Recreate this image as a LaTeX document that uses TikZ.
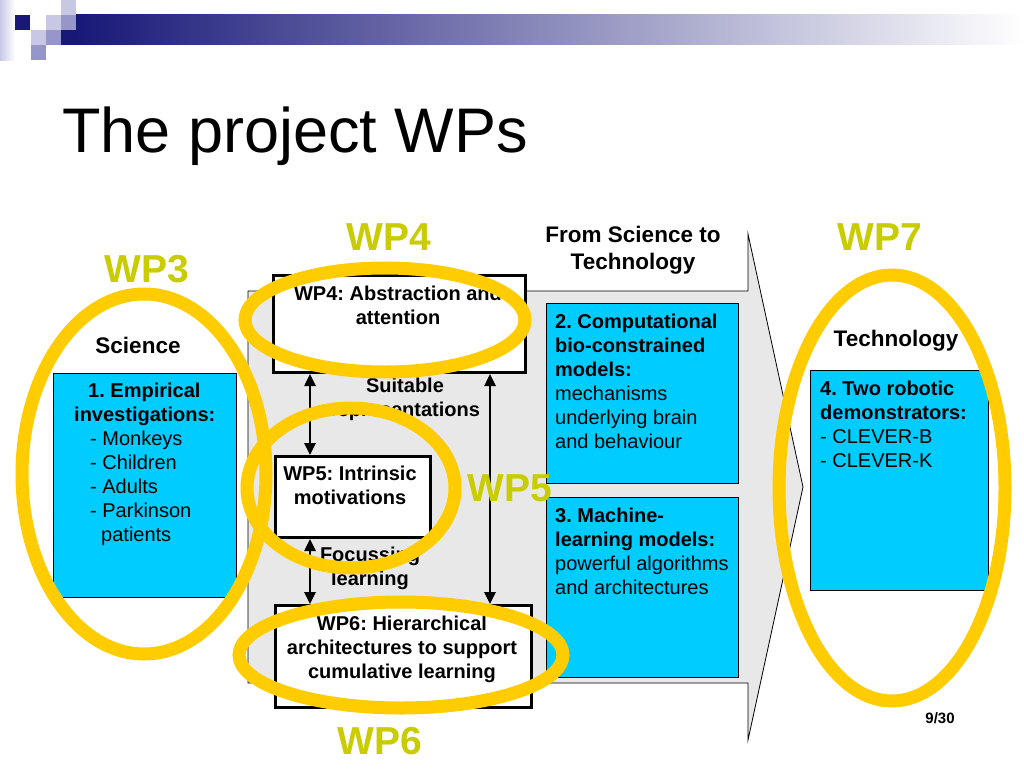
\documentclass[tikz,border=0pt]{standalone}
\usepackage{fontspec}
\setmainfont{Liberation Sans}
\usepackage{tikz}
\usetikzlibrary{arrows.meta}
\frenchspacing
\definecolor{navybar}{RGB}{24,24,120}
\definecolor{lavlight}{RGB}{200,200,228}
\definecolor{lavmid}{RGB}{150,150,200}
\definecolor{boxcyan}{RGB}{0,204,255}
\definecolor{ringgold}{RGB}{255,204,0}
\definecolor{wpolive}{RGB}{200,204,0}
\definecolor{arrowgray}{RGB}{232,232,232}
\tikzset{
	cyanbox/.style={draw=black, line width=0.8pt, fill=boxcyan, anchor=north west, inner sep=0pt},
	wpbox/.style={draw=black, line width=3pt, fill=white, anchor=north west, inner sep=0pt},
	ring/.style={draw=ringgold, line width=13pt},
	wplabel/.style={text=wpolive, anchor=base, inner sep=0pt, font=\fontsize{39}{39}\selectfont\bfseries},
	txt/.style={inner sep=0pt, font=\fontsize{20}{24}\selectfont},
	headtxt/.style={inner sep=0pt, font=\fontsize{22.5}{27}\selectfont\bfseries},
	dbl/.style={line width=2.5pt, {Triangle[length=12pt,width=11pt]}-{Triangle[length=12pt,width=11pt]}}
}
\begin{document}
\begin{tikzpicture}[x=1pt,y=-1pt]
				\useasboundingbox (0,0) rectangle (1024,768);
				\fill[white] (0,0) rectangle (1024,768);
				\shade[left color=lavlight, right color=white] (0,0) rectangle (15,60);
				\shade[left color=navybar, right color=white] (76,15) rectangle (1024,45);
				\fill[navybar] (15,15) rectangle (30,30);
				\fill[lavlight] (46,15) rectangle (61,30);
				\fill[lavmid] (61,15) rectangle (76,30);
				\fill[lavlight] (61,0) rectangle (76,15);
				\fill[navybar] (61,30) rectangle (76,45);
				\fill[lavmid] (46,30) rectangle (61,45);
				\fill[lavlight] (31,30) rectangle (46,45);
				\fill[lavmid] (31,45) rectangle (46,60);
				\node[anchor=base west, inner sep=0pt, font=\fontsize{63}{63}\selectfont] (title) at (62,152) {The project WPs};
				\draw[line width=0.8pt, fill=arrowgray] (248,291) -- (748,291) -- (748,234) -- (803,487) -- (748,740) -- (748,683) -- (248,683) -- cycle;
				\node[cyanbox, minimum width=183pt, minimum height=224pt] (empbox) at (53,373) {};
				\node[cyanbox, minimum width=192pt, minimum height=180pt] (compbox) at (546,303) {};
				\node[cyanbox, minimum width=192pt, minimum height=180pt] (machbox) at (546,497) {};
				\node[cyanbox, minimum width=178pt, minimum height=220pt] (robobox) at (810,370) {};
				\node[wpbox, minimum width=252pt, minimum height=97pt] (wpfourbox) at (272,274) {};
				\node[wpbox, minimum width=155pt, minimum height=81pt] (wpfivebox) at (274,455) {};
				\node[wpbox, minimum width=256pt, minimum height=102pt] (wpsixbox) at (274,604) {};
				\node[headtxt, anchor=base] (science) at (138,353) {Science};
				\node[headtxt, anchor=base] (technology) at (896,346) {Technology};
				\node[headtxt, anchor=north, align=center] (fromsci) at (633,226) {From Science to\\Technology};
				\node[txt, anchor=north west, align=left] (emptext) at (74,383) {\hspace*{14pt}\textbf{1. Empirical}\\\textbf{investigations:}\\\hspace*{16pt}- Monkeys\\\hspace*{16pt}- Children\\\hspace*{16pt}- Adults\\\hspace*{16pt}- Parkinson\\\hspace*{27pt}patients};
				\node[txt, anchor=north west, align=left] (comptext) at (555,314) {\textbf{2. Computational}\\\textbf{bio-constrained}\\\textbf{models:}\\mechanisms\\underlying brain\\and behaviour};
				\node[txt, anchor=north west, align=left] (machtext) at (555,508) {\textbf{3. Machine-}\\\textbf{learning models:}\\powerful algorithms\\and architectures};
				\node[txt, anchor=north west, align=left] (robotext) at (820,381) {\textbf{4. Two robotic}\\\textbf{demonstrators:}\\- CLEVER-B\\- CLEVER-K};
				\node[txt, anchor=north, align=center, font=\fontsize{20}{24}\selectfont\bfseries] (wpfourtext) at (398,286) {WP4: Abstraction and\\attention};
				\node[txt, anchor=north, align=center, font=\fontsize{20}{24}\selectfont\bfseries] (wpfivetext) at (350,466) {WP5: Intrinsic\\motivations};
				\node[txt, anchor=north, align=center, font=\fontsize{20}{24}\selectfont\bfseries] (wpsixtext) at (402,616) {WP6: Hierarchical\\architectures to support\\cumulative learning};
				\node[txt, anchor=north, align=center, font=\fontsize{20}{24}\selectfont\bfseries] (suitable) at (405,378) {Suitable\\representations};
				\node[txt, anchor=north, align=center, font=\fontsize{20}{24}\selectfont\bfseries] (focus) at (370,547) {Focussing\\learning};
				\coordinate (lx) at (310,0);
				\coordinate (rx) at (490,0);
				\draw[dbl] (wpfourbox.south -| lx) -- (wpfivebox.north -| lx);
				\draw[dbl] (wpfivebox.south -| lx) -- (wpsixbox.north -| lx);
				\draw[dbl] (wpfourbox.south -| rx) -- (wpsixbox.north -| rx);
				\draw[ring] (144,474) ellipse [x radius=122pt, y radius=180pt];
				\draw[ring] (385,320) ellipse [x radius=140pt, y radius=52pt];
				\draw[ring] (351,488) ellipse [x radius=104pt, y radius=80pt];
				\draw[ring] (401,655) ellipse [x radius=162pt, y radius=53pt];
				\draw[ring] (892,488) ellipse [x radius=113pt, y radius=213pt];
				\node[wplabel] (wpthree) at (147,282) {WP3};
				\node[wplabel] (wpfour) at (389,250) {WP4};
				\node[wplabel] (wpfive) at (510,501) {WP5};
				\node[wplabel] (wpsix) at (380,754) {WP6};
				\node[wplabel] (wpseven) at (880,250) {WP7};
				\node[anchor=base, inner sep=0pt, font=\fontsize{15}{15}\selectfont\bfseries] (pagenum) at (940,723) {9/30};
\end{tikzpicture}
\end{document}
